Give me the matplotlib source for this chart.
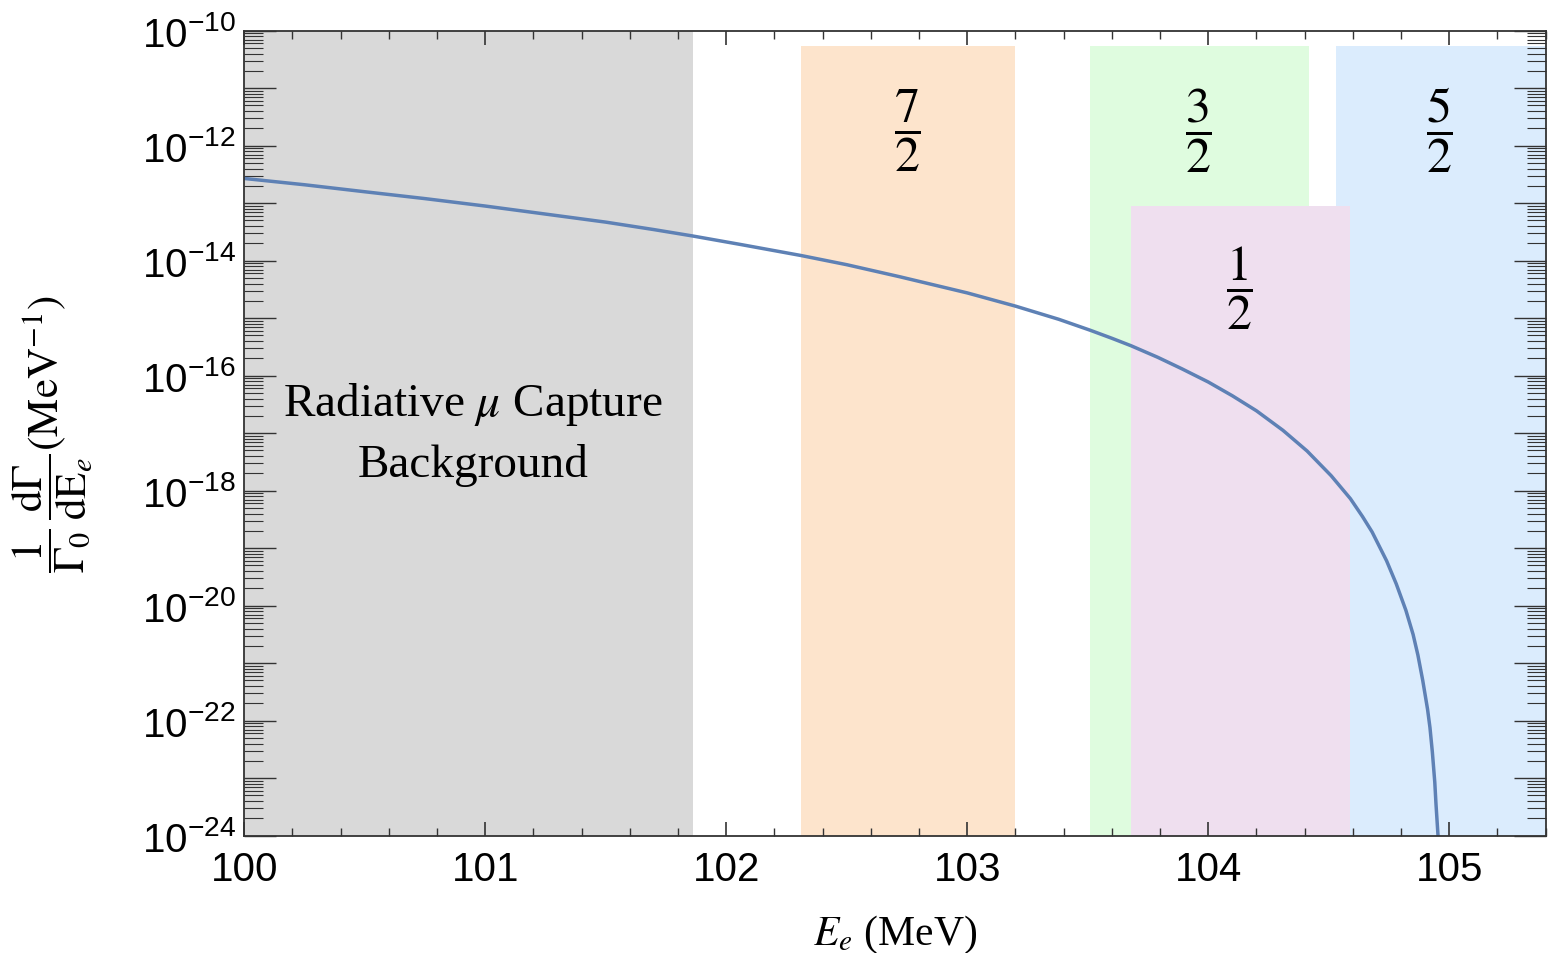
import matplotlib
matplotlib.use("Agg")
import matplotlib.pyplot as plt
from matplotlib.ticker import FixedLocator, FuncFormatter, MultipleLocator, NullFormatter
import numpy as np

plt.rcParams['mathtext.fontset'] = 'custom'
plt.rcParams['mathtext.rm'] = 'Liberation Sans'
plt.rcParams['mathtext.it'] = 'Liberation Sans:italic'
plt.rcParams['font.family'] = 'Liberation Sans'

# spectrum
energy = [100.0, 100.25, 100.5, 100.75, 101.0, 101.25, 101.5, 101.7, 101.86, 102.06,
          102.31, 102.5, 102.72, 103.0, 103.2, 103.38, 103.51, 103.6, 103.68, 103.79,
          103.89, 104.0, 104.1, 104.2, 104.31, 104.41, 104.51, 104.59, 104.64, 104.68,
          104.74, 104.78, 104.82, 104.85, 104.87, 104.89, 104.91, 104.92, 104.93,
          104.94, 104.945, 104.955]
rate = [2.69e-13, 2.09e-13, 1.58e-13, 1.20e-13, 8.91e-14, 6.46e-14, 4.68e-14, 3.47e-14,
        2.69e-14, 1.91e-14, 1.23e-14, 8.51e-15, 5.25e-15, 2.75e-15, 1.62e-15, 9.55e-16,
        6.17e-16, 4.47e-16, 3.31e-16, 2.09e-16, 1.32e-16, 7.76e-17, 4.47e-17, 2.45e-17,
        1.12e-17, 4.90e-18, 1.82e-18, 7.24e-19, 3.55e-19, 1.91e-19, 6.03e-20, 2.40e-20,
        8.32e-21, 3.16e-21, 1.38e-21, 5.01e-22, 1.58e-22, 7.59e-23, 2.82e-23, 8.51e-24,
        3.55e-24, 7.9e-25]

# shaded regions: gray background, then J = 7/2, 3/2, 5/2, 1/2 windows
bg_range = (100.0, 101.86)
band_names = ['7/2', '3/2', '5/2', '1/2']
band_left = [102.31, 103.51, 104.53, 103.68]
band_right = [103.20, 104.42, 105.40, 104.59]
band_top = [5.5e-11, 5.5e-11, 5.5e-11, 8.9e-14]
band_colors = ['#fde4cc', '#dffcdf', '#dbecfd', '#efdfef']
frac_x = [102.75, 103.96, 104.96, 104.13]
frac_y = [1.9e-12, 1.9e-12, 1.9e-12, 3.5e-15]

fig = plt.figure(figsize=(15.52, 9.54), dpi=100)
ax = fig.add_axes([0.1574, 0.123, 0.8385, 0.8438])

ax.fill_between(bg_range, 1e-24, 1e-10, color='#d9d9d9', lw=0, zorder=1)
for l, r, t, c in zip(band_left, band_right, band_top, band_colors):
    ax.fill_between([l, r], 1e-24, t, color=c, lw=0, zorder=1)

ax.plot(energy, rate, color='#5e81b5', lw=2.5, zorder=3, solid_joinstyle='round')

for name, x, y in zip(band_names, frac_x, frac_y):
    num, den = name.split('/')
    ax.text(x, y, r'$\dfrac{%s}{%s}$' % (num, den), ha='center', va='center',
            fontsize=36, math_fontfamily='stix', zorder=4)

ax.text(100.95, 1.0e-17, 'Radiative $\\mu$ Capture\nBackground', ha='center', va='center',
        fontsize=34, family='Liberation Serif', math_fontfamily='stix', linespacing=1.5, zorder=4)

ax.set_yscale('log')
ax.set_xlim(100, 105.40)
ax.set_ylim(1e-24, 1e-10)

ax.xaxis.set_major_locator(MultipleLocator(1))
ax.xaxis.set_minor_locator(MultipleLocator(0.2))
ax.xaxis.set_major_formatter(FuncFormatter(lambda v, p: '%d' % round(v)))

ax.yaxis.set_major_locator(FixedLocator([10.0 ** e for e in range(-24, -9)]))
ax.yaxis.set_minor_locator(FixedLocator([m * 10.0 ** e for e in range(-24, -10) for m in range(2, 10)]))
ax.yaxis.set_major_formatter(FuncFormatter(
    lambda v, p: r'$10^{%d}$' % round(np.log10(v)) if round(np.log10(v)) % 2 == 0 else ''))
ax.yaxis.set_minor_formatter(NullFormatter())

ax.tick_params(axis='both', which='both', direction='in', top=True, right=True, color='#333333')
ax.tick_params(axis='x', which='major', length=10, width=1.2, labelsize=29, pad=10)
ax.tick_params(axis='x', which='minor', length=6, width=1.0)
ax.tick_params(axis='y', which='major', length=23, width=1.0, labelsize=29, pad=6)
ax.tick_params(axis='y', which='minor', length=14, width=0.8)
for s in ax.spines.values():
    s.set_color('#333333')
    s.set_linewidth(1.3)
    s.set_zorder(5)

ax.set_xlabel(r'$E_e$ (MeV)', fontsize=30, family='Liberation Serif', math_fontfamily='stix', labelpad=18)
ax.set_ylabel(r'$\dfrac{1}{\Gamma_0}\,\dfrac{\mathrm{d}\Gamma}{\mathrm{dE}_e}(\mathrm{MeV}^{-1})$',
              fontsize=31, math_fontfamily='stix', labelpad=34)

fig.savefig('out.png', dpi=100)
